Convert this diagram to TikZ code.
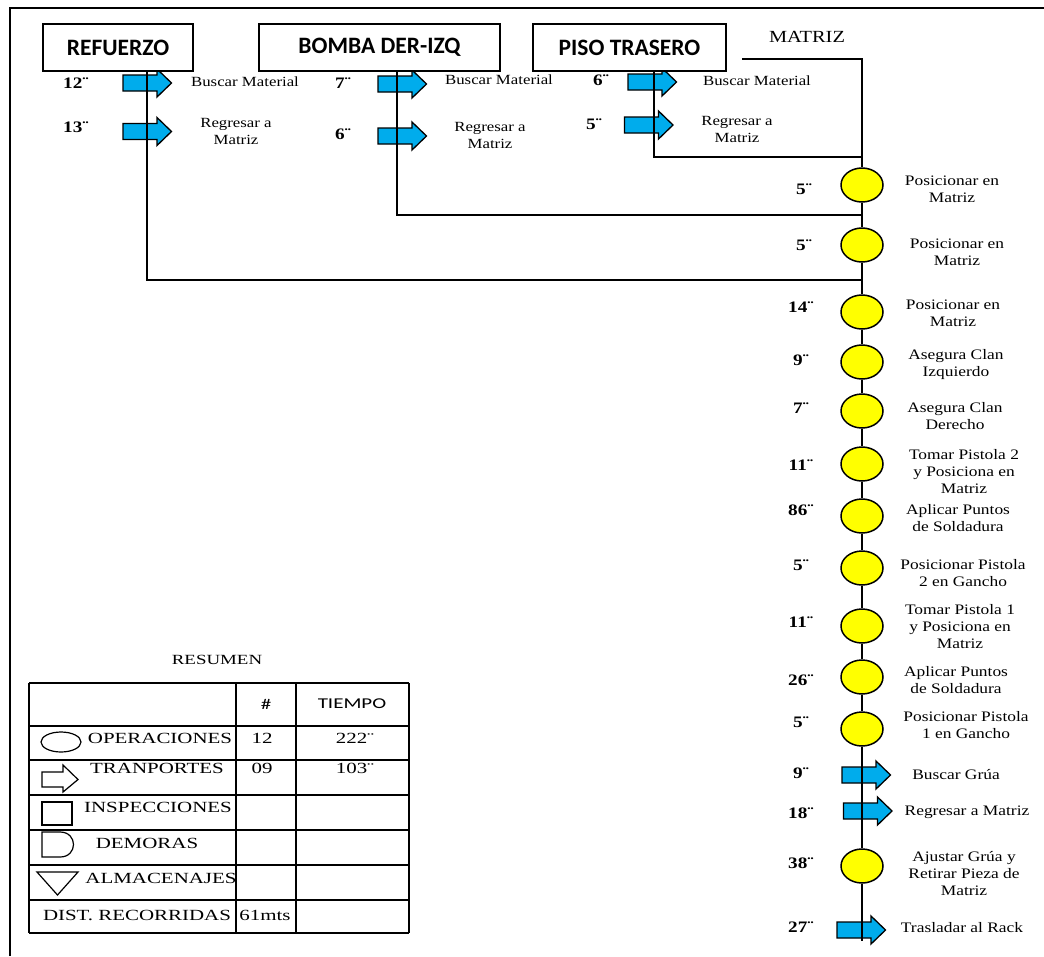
\documentclass[tikz,border=0pt]{standalone}
\usepackage{fontspec}
\setmainfont{Liberation Serif}[FakeStretch=1.2]
\newfontfamily\tabfont{Liberation Serif}[FakeStretch=1.35]
\newfontfamily\boxfont{Carlito}
\newfontfamily\hdrfont{Carlito}[FakeStretch=1.4]
\usetikzlibrary{shapes.geometric}
\definecolor{tblue}{RGB}{0,172,236}
\definecolor{opyellow}{RGB}{255,255,0}
\tikzset{
  frameline/.style={line width=1.8pt},
  conn/.style={line width=1.7pt},
  tline/.style={line width=1.3pt},
  titlebox/.style={draw, line width=1.7pt, fill=white, minimum height=47pt, inner sep=0pt,
    font=\boxfont\bfseries\fontsize{23.5}{26}\selectfont},
  opcirc/.style={ellipse, draw, line width=1.5pt, fill=opyellow, minimum width=42pt, minimum height=34pt, inner sep=0pt},
  tlabel/.style={font=\bfseries\fontsize{16}{17}\selectfont, inner sep=0pt},
  olabel/.style={font=\fontsize{14.5}{17}\selectfont, align=center, inner sep=0pt},
  toplabel/.style={font=\fontsize{14}{17}\selectfont, align=center, inner sep=0pt},
  tabtext/.style={font=\tabfont\fontsize{15.5}{17}\selectfont, inner sep=0pt},
  hdrtext/.style={font=\hdrfont\fontsize{15}{17}\selectfont, inner sep=0pt},
  pics/transp/.style={code={
    \draw[line width=1.3pt, fill=tblue] (-24,-8) -- (10,-8) -- (10,-14) -- (24.5,0) -- (10,14) -- (10,8) -- (-24,8) -- cycle;}},
}
\begin{document}
\begin{tikzpicture}[x=1pt,y=-1pt]
\useasboundingbox (0,0) rectangle (1044,956);
\draw[frameline] (10,956) -- (10,8) -- (1044,8);

% ---------- key coordinates ----------
\coordinate (mstart) at (742,59);
\coordinate (mtop) at (862,59);
\coordinate (mbot) at (862,941);
\coordinate (rcorner) at (147,280);
\coordinate (bcorner) at (397,215);
\coordinate (pcorner) at (654,157);

% ---------- transport arrows (under the lines) ----------
\pic at (147,83) {transp};
\pic at (147,131.5) {transp};
\pic at (402,84) {transp};
\pic at (402,136) {transp};
\pic at (652,82) {transp};
\pic at (648.5,125) {transp};
\pic at (866,775) {transp};
\pic at (867.5,811) {transp};
\pic at (861,930) {transp};

% ---------- title boxes ----------
\node[titlebox, minimum width=150pt] (ref) at (118,47.5) {REFUERZO};
\node[titlebox, minimum width=241pt] (bom) at (379.5,47.5) {BOMBA DER-IZQ};
\node[titlebox, minimum width=193pt] (pis) at (629.5,47.5) {PISO TRASERO};
\node[font=\fontsize{17}{19}\selectfont, inner sep=0pt] (mat) at (807,37) {MATRIZ};

% ---------- operation circles ----------
\node[opcirc] (c1) at (862,185) {};
\node[opcirc] (c2) at (862,245) {};
\node[opcirc] (c3) at (862,312) {};
\node[opcirc] (c4) at (862,362) {};
\node[opcirc] (c5) at (862,411) {};
\node[opcirc] (c6) at (862,464) {};
\node[opcirc] (c7) at (862,516) {};
\node[opcirc] (c8) at (862,568) {};
\node[opcirc] (c9) at (862,626) {};
\node[opcirc] (c10) at (862,677) {};
\node[opcirc] (c11) at (862,729) {};
\node[opcirc] (c12) at (862,866) {};

% ---------- connectors ----------
\draw[conn] (ref.south -| rcorner) -- (rcorner) -- (rcorner -| mtop);
\draw[conn] (bom.south -| bcorner) -- (bcorner) -- (bcorner -| mtop);
\draw[conn] (pis.south -| pcorner) -- (pcorner) -- (pcorner -| mtop);
\draw[conn] (mstart) -- (mtop) -- (c1);
\draw[conn] (c1) -- (c2);
\draw[conn] (c2) -- (c3);
\draw[conn] (c3) -- (c4);
\draw[conn] (c4) -- (c5);
\draw[conn] (c5) -- (c6);
\draw[conn] (c6) -- (c7);
\draw[conn] (c7) -- (c8);
\draw[conn] (c8) -- (c9);
\draw[conn] (c9) -- (c10);
\draw[conn] (c10) -- (c11);
\draw[conn] (c11) -- (c12);
\draw[conn] (c12) -- (mbot);

% ---------- top section labels ----------
\node[tlabel] (t1) at (76,83) {12¨};
\node[tlabel] (t2) at (76,127) {13¨};
\node[toplabel] (l1) at (245,82) {Buscar Material};
\node[toplabel] (l2) at (236,131) {Regresar a\\Matriz};
\node[tlabel] (t3) at (343,83) {7¨};
\node[tlabel] (t4) at (343,134) {6¨};
\node[toplabel] (l3) at (499,80) {Buscar Material};
\node[toplabel] (l4) at (490,135) {Regresar a\\Matriz};
\node[tlabel] (t5) at (601,80) {6¨};
\node[tlabel] (t6) at (594,124) {5¨};
\node[toplabel] (l5) at (757,81) {Buscar Material};
\node[toplabel] (l6) at (737,129.5) {Regresar a\\Matriz};

% ---------- right column labels ----------
\node[tlabel] at (804,189) {5¨};
\node[olabel] at (952,189.5) {Posicionar en\\Matriz};
\node[tlabel] at (804,245) {5¨};
\node[olabel] at (957,252.5) {Posicionar en\\Matriz};
\node[tlabel] at (801,307) {14¨};
\node[olabel] at (953,313.5) {Posicionar en\\Matriz};
\node[tlabel] at (801,360) {9¨};
\node[olabel] at (956,365) {Asegura Clan\\Izquierdo};
\node[tlabel] at (801,408) {7¨};
\node[olabel] at (955,416.5) {Asegura Clan\\Derecho};
\node[tlabel] at (801,465) {11¨};
\node[olabel] at (964,472) {Tomar Pistola 2\\y Posiciona en\\Matriz};
\node[tlabel] at (801,510) {86¨};
\node[olabel] at (958,518.5) {Aplicar Puntos\\de Soldadura};
\node[tlabel] at (801,565) {5¨};
\node[olabel] at (963,573.5) {Posicionar Pistola\\2 en Gancho};
\node[tlabel] at (801,622) {11¨};
\node[olabel] at (960,627) {Tomar Pistola 1\\y Posiciona en\\Matriz};
\node[tlabel] at (801,680) {26¨};
\node[olabel] at (956,680.5) {Aplicar Puntos\\de Soldadura};
\node[tlabel] at (801,722) {5¨};
\node[olabel] at (966,725.5) {Posicionar Pistola\\1 en Gancho};
\node[tlabel] at (801,773) {9¨};
\node[olabel] at (956,775) {Buscar Grúa};
\node[tlabel] at (801,813) {18¨};
\node[olabel] at (967,812) {Regresar a Matriz};
\node[tlabel] at (801,863) {38¨};
\node[olabel] at (964,873.5) {Ajustar Grúa y\\Retirar Pieza de\\Matriz};
\node[tlabel] at (801,927) {27¨};
\node[olabel] at (962,928) {Trasladar al Rack};

% ---------- summary table ----------
\node[font=\tabfont\fontsize{14}{16}\selectfont, inner sep=0pt] at (217,660) {RESUMEN};
\foreach \y in {683,726,760,795,830,865,900,933} \draw[tline] (29,\y) -- (409,\y);
\foreach \x in {29,236,296,409} \draw[tline] (\x,683) -- (\x,933);
\node[hdrtext] at (266,704) {\#};
\node[hdrtext] at (352,704) {TIEMPO};
% symbols
\draw[line width=1.2pt] (61,742) ellipse [x radius=20, y radius=10];
\draw[line width=1.2pt] (42,772) -- (63,772) -- (63,765) -- (78,779.5) -- (63,792) -- (63,787) -- (42,787) -- cycle;
\draw[line width=1.2pt] (42,802) rectangle (72,825);
\draw[line width=1.2pt] (42,832) -- (60,832) .. controls (78,832) and (78,857) .. (60,857) -- (42,857) -- cycle;
\draw[line width=1.2pt] (37,872) -- (78,872) -- (57.5,895) -- cycle;
% texts
\node[tabtext] at (160,738) {OPERACIONES};
\node[tabtext] at (262,738) {12};
\node[tabtext] at (355,738) {222¨};
\node[tabtext] at (157,768) {TRANPORTES};
\node[tabtext] at (262,768) {09};
\node[tabtext] at (355,768) {103¨};
\node[tabtext] at (158,807) {INSPECCIONES};
\node[tabtext] at (147,843) {DEMORAS};
\node[tabtext] at (161,878) {ALMACENAJES};
\node[tabtext] at (137,915) {DIST. RECORRIDAS};
\node[tabtext] at (265,915) {61mts};
\end{tikzpicture}
\end{document}
